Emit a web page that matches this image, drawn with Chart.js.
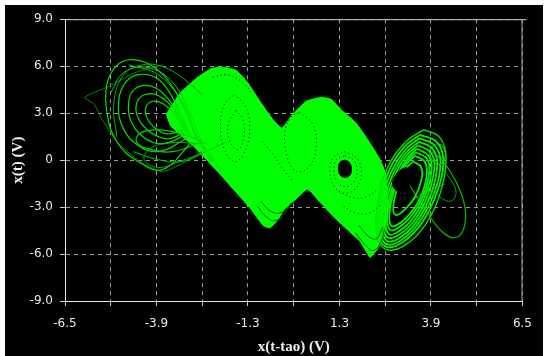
<!DOCTYPE html>
<html>
<head>
<meta charset="utf-8">
<script src="https://cdn.jsdelivr.net/npm/chart.js@4.4.1/dist/chart.umd.min.js"></script>
<style>
  html, body { margin: 0; padding: 0; background: #fff; }
  #wrap { position: absolute; left: 5px; top: 5px; width: 538px; height: 351px; background: #000; }
</style>
</head>
<body>
<div id="wrap"><canvas id="phase"></canvas></div>
<script>
// axis ticks
const xGrid = [-6.5, -5.2, -3.9, -2.6, -1.3, 0, 1.3, 2.6, 3.9, 5.2, 6.5];
const xTickLabels = ['-6.5', '', '-3.9', '', '-1.3', '', '1.3', '', '3.9', '', '6.5'];
const yGrid = [-9, -6, -3, 0, 3, 6, 9];
const yTickLabels = ['-9.0', '-6.0', '-3.0', '0', '3.0', '6.0', '9.0'];

// dense part of the attractor, traced round its outline  [x(t-tao), x(t)]
const band = [[-3.62,2.94],[-3.22,4.30],[-2.75,5.25],[-2.33,5.86],[-1.97,5.93],[-1.64,5.74],[-1.31,4.96],[-0.94,3.69],[-0.58,2.56],[-0.33,2.05],[-0.03,2.94],[0.36,3.76],[0.78,4.01],[1.06,3.88],[1.36,3.19],[1.75,2.43],[2.11,1.29],[2.44,0.09],[2.61,-0.85],[2.64,-1.67],[2.69,-2.94],[2.58,-4.64],[2.39,-5.65],[2.17,-6.22],[2.06,-5.84],[1.89,-5.21],[1.56,-4.52],[1.14,-3.63],[0.72,-2.62],[0.39,-1.86],[0.03,-2.56],[-0.25,-3.13],[-0.47,-3.88],[-0.67,-4.33],[-0.86,-4.20],[-1.22,-3.13],[-1.64,-2.05],[-2.14,-0.79],[-2.56,0.22],[-2.89,0.98],[-3.22,1.61],[-3.50,2.20],[-3.62,2.94]];

// left lobe loops
const left1 = [[-2.89,1.17],[-3.72,-0.60],[-4.42,-0.09],[-5.03,1.17],[-5.31,3.06],[-5.31,4.83],[-5.06,5.97],[-4.69,6.41],[-4.19,6.22],[-3.72,5.46],[-3.31,4.20],[-2.97,2.56],[-2.75,1.17]];
const left2 = [[-2.97,1.48],[-3.86,0.54],[-4.56,1.17],[-4.92,2.43],[-4.97,3.88],[-4.78,4.96],[-4.42,5.46],[-3.92,5.27],[-3.53,4.33],[-3.22,2.94],[-2.92,1.48]];
const left3 = [[-3.03,1.67],[-3.72,1.04],[-4.28,1.48],[-4.64,2.56],[-4.69,3.69],[-4.56,4.45],[-4.22,4.77],[-3.81,4.45],[-3.44,3.51],[-3.14,2.31],[-2.97,1.61]];
const left4 = [[-3.08,1.80],[-3.58,1.36],[-4.08,1.80],[-4.42,2.68],[-4.47,3.57],[-4.28,4.14],[-3.94,4.20],[-3.58,3.69],[-3.25,2.75],[-3.08,1.80]];
const left5 = [[-3.14,1.93],[-3.58,1.67],[-3.94,2.05],[-4.19,2.81],[-4.19,3.44],[-4.0,3.76],[-3.69,3.57],[-3.36,2.87],[-3.14,1.93]];
const left6 = [[-5.03,1.48],[-5.11,3.69],[-4.83,5.46],[-4.28,6.09],[-3.72,5.97],[-3.17,5.27],[-2.61,4.20]];
const left7 = [[-2.61,1.17],[-3.44,0.54],[-4.14,0.73],[-4.47,1.17],[-4.36,1.74],[-3.86,1.93],[-3.17,1.67],[-2.47,1.04]];
const left8 = [[-2.47,0.54],[-3.25,-0.09],[-3.86,-0.47],[-4.25,0.03],[-4.08,0.73],[-3.53,1.11],[-2.61,1.04]];
const sweep1 = [[-4.69,6.09],[-3.86,5.46],[-3.17,3.69],[-2.75,1.48],[-2.33,-0.09]];
const sweep2 = [[-5.19,4.33],[-4.83,5.59],[-4.14,5.91],[-3.44,4.96],[-2.97,3.06],[-2.61,1.17],[-2.06,-0.73]];
const sweep3 = [[-4.56,0.54],[-3.86,0.03],[-3.17,-0.09],[-2.61,0.41],[-1.92,1.17]];
const transient = [[-3.72,6.09],[-4.5,5.59],[-5.25,4.71],[-5.94,4.01],[-5.67,3.57],[-5.44,2.56],[-4.97,1.04],[-4.28,-0.22],[-3.72,-0.73],[-3.17,-0.22],[-2.61,0.54]];

// right lobe loops
const right0 = [[3.70,1.95],[4.15,1.45],[4.33,0.20],[4.19,-1.90],[3.75,-4.10],[3.15,-5.45],[2.62,-5.70],[2.36,-4.80],[2.40,-2.60],[2.66,-0.50],[3.20,1.20],[3.70,1.95]];
const right1 = [[3.58,1.61],[4.06,1.17],[4.25,0.03],[4.08,-1.99],[3.64,-4.01],[3.08,-5.27],[2.61,-5.53],[2.39,-4.64],[2.44,-2.62],[2.72,-0.60],[3.14,0.85],[3.58,1.61]];
const right1b = [[3.57,1.40],[4.00,0.95],[4.17,-0.12],[3.99,-2.10],[3.55,-4.02],[3.03,-5.15],[2.62,-5.35],[2.44,-4.45],[2.50,-2.55],[2.78,-0.72],[3.17,0.66],[3.57,1.40]];
const right2 = [[3.56,1.17],[3.94,0.73],[4.08,-0.28],[3.89,-2.24],[3.47,-4.01],[2.97,-5.02],[2.64,-5.15],[2.50,-4.26],[2.58,-2.49],[2.83,-0.85],[3.19,0.47],[3.56,1.17]];
const right2b = [[3.53,0.95],[3.89,0.50],[4.00,-0.44],[3.80,-2.30],[3.40,-3.95],[2.94,-4.83],[2.66,-4.93],[2.55,-4.07],[2.65,-2.43],[2.89,-0.91],[3.20,0.28],[3.53,0.95]];
const right3 = [[3.50,0.73],[3.83,0.28],[3.92,-0.60],[3.72,-2.37],[3.33,-3.88],[2.92,-4.64],[2.69,-4.71],[2.61,-3.88],[2.72,-2.37],[2.94,-0.98],[3.22,0.09],[3.50,0.73]];
const right3b = [[3.47,0.50],[3.78,0.10],[3.85,-0.79],[3.65,-2.43],[3.27,-3.75],[2.90,-4.42],[2.72,-4.42],[2.66,-3.63],[2.78,-2.25],[2.98,-1.01],[3.22,-0.06],[3.47,0.50]];
const right4 = [[3.44,0.28],[3.72,-0.09],[3.78,-0.98],[3.58,-2.49],[3.22,-3.63],[2.89,-4.20],[2.75,-4.14],[2.72,-3.38],[2.83,-2.12],[3.03,-1.04],[3.22,-0.22],[3.44,0.28]];
const right5 = [[3.39,-0.09],[3.61,-0.41],[3.64,-1.17],[3.44,-2.37],[3.14,-3.19],[2.92,-3.51],[2.83,-3.25],[2.86,-2.49],[2.97,-1.61],[3.11,-0.73],[3.39,-0.09]];
const rightOut = [[3.92,0.54],[4.25,-0.09],[4.61,-1.36],[4.86,-2.94],[4.83,-4.39],[4.56,-4.96],[4.19,-4.52],[3.86,-3.57],[3.58,-2.62],[3.31,-1.67]];
const rightSmall = [[3.92,0.85],[4.11,1.04],[4.28,0.66],[4.28,0.03],[4.11,-0.28],[3.92,0.03],[3.86,0.54],[3.92,0.85]];
const rightBulge = [[3.83,-1.36],[4.14,-2.31],[4.47,-2.62],[4.61,-1.99],[4.33,-0.85],[4.06,-0.09]];
const rightTail = [[3.36,-2.62],[3.81,-1.86],[4.28,-1.55]];

// dark centres and speckled streaks inside the dense part
const holeMid = [[1.44,0.00],[1.58,-0.15],[1.64,-0.54],[1.60,-0.95],[1.47,-1.10],[1.32,-0.95],[1.27,-0.54],[1.31,-0.15],[1.44,0.00]];
const holeRight = [[3.19,-0.47],[3.36,-0.73],[3.33,-1.36],[3.14,-1.86],[2.92,-1.93],[2.81,-1.55],[2.89,-0.98],[3.06,-0.60],[3.19,-0.47]];
const ringMid1 = [[1.44,0.54],[1.78,0.16],[1.92,-0.73],[1.81,-1.67],[1.47,-2.12],[1.14,-1.67],[1.03,-0.60],[1.14,0.22],[1.44,0.54]];
const ringMid2 = [[1.45,0.28],[1.70,0.00],[1.80,-0.62],[1.72,-1.35],[1.47,-1.70],[1.22,-1.35],[1.14,-0.58],[1.22,0.05],[1.45,0.28]];
const streakLeft1 = [[-1.69,4.20],[-1.36,3.38],[-1.25,1.93],[-1.42,0.41],[-1.69,-0.09],[-1.97,0.66],[-2.08,2.12],[-1.97,3.57],[-1.69,4.20]];
const streakLeft2 = [[-1.64,3.19],[-1.44,2.56],[-1.42,1.48],[-1.58,0.66],[-1.81,1.17],[-1.86,2.31],[-1.64,3.19]];
const streakLeft3 = [[-2.30,5.30],[-1.90,5.45],[-1.50,5.05],[-1.15,4.20]];
const streakMid = [[0.17,3.06],[0.53,2.31],[0.64,0.85],[0.44,-0.41],[0.08,-0.73],[-0.19,0.22],[-0.25,1.80],[-0.08,2.75],[0.17,3.06]];
const streakMid2 = [[-0.90,1.20],[-0.60,0.40],[-0.30,-0.60],[0.00,-1.40]];
const arcLow1 = [[-1.03,-2.94],[-0.81,-3.57],[-0.53,-3.88],[-0.25,-3.38],[-0.08,-2.75]];
const arcLow2 = [[-0.94,-2.62],[-0.67,-3.25],[-0.39,-3.38],[-0.14,-2.94]];
const arcTip1 = [[1.75,-4.64],[2.03,-5.40],[2.25,-5.78],[2.47,-5.27],[2.58,-4.39]];
const arcTip2 = [[1.86,-4.20],[2.14,-4.90],[2.36,-5.02],[2.53,-4.26]];
const arcSide1 = [[1.28,-1.99],[1.64,-2.37],[2.03,-2.37],[2.39,-1.86]];
const arcSide2 = [[1.42,-2.94],[1.75,-3.38],[2.14,-3.38],[2.47,-2.87]];

function trace(pts, color, width, extra) {
  return Object.assign({
    data: pts.map(p => ({x: p[0], y: p[1]})),
    borderColor: color,
    borderWidth: width,
    pointRadius: 0,
    tension: 0.4,
    fill: false,
    order: 5
  }, extra || {});
}

const speckle = {borderDash: [1, 3], order: 1};

const datasets = [
  trace(band, '#00ff00', 1, {fill: 'shape', backgroundColor: '#00ff00', tension: 0.15, order: 10}),
  trace(left1, '#00e000', 1.2),
  trace(left2, '#00e000', 1.2),
  trace(left3, '#00e000', 1.2),
  trace(left4, '#00e000', 1.2),
  trace(left5, '#00e000', 1.2),
  trace(left6, '#00b400', 1),
  trace(left7, '#00d000', 1.2),
  trace(left8, '#00b400', 1),
  trace(sweep1, '#00c800', 1),
  trace(sweep2, '#00d800', 1),
  trace(sweep3, '#00c000', 1),
  trace(transient, '#008c00', 1, {tension: 0.2}),
  trace(right0, '#00e000', 1.4),
  trace(right1, '#00f000', 1.8),
  trace(right1b, '#00f000', 1.8),
  trace(right2, '#00f000', 1.8),
  trace(right2b, '#00f000', 1.8),
  trace(right3, '#00f000', 1.8),
  trace(right3b, '#00f000', 1.8),
  trace(right4, '#00f000', 1.8),
  trace(right5, '#00f000', 1.8),
  trace(rightOut, '#00c000', 1.2),
  trace(rightSmall, '#00c800', 1.2),
  trace(rightBulge, '#00b000', 1),
  trace(rightTail, '#00b000', 1, {tension: 0}),
  trace(holeMid, '#000', 1, {fill: 'shape', backgroundColor: '#000', order: 0}),
  trace(holeRight, '#000', 1, {fill: 'shape', backgroundColor: '#000', order: 0}),
  trace(ringMid1, '#000', 1, speckle),
  trace(ringMid2, '#000', 1, speckle),
  trace(streakLeft1, '#000', 1, speckle),
  trace(streakLeft2, '#000', 1, speckle),
  trace(streakLeft3, '#000', 1, speckle),
  trace(streakMid, '#000', 1, speckle),
  trace(streakMid2, '#000', 1, speckle),
  trace(arcLow1, '#006000', 1, {order: 1}),
  trace(arcLow2, '#006000', 1, {order: 1}),
  trace(arcTip1, '#006000', 1, {order: 1}),
  trace(arcTip2, '#006000', 1, {order: 1}),
  trace(arcSide1, '#000', 1, speckle),
  trace(arcSide2, '#000', 1, speckle)
];

const frame = {
  id: 'frame',
  afterDraw(chart) {
    const {ctx, chartArea: a} = chart;
    ctx.save();
    ctx.lineWidth = 1;
    ctx.strokeStyle = '#d0d0d0';
    ctx.beginPath();
    ctx.moveTo(a.left, a.top + 0.5);
    ctx.lineTo(a.right + 4, a.top + 0.5);
    ctx.stroke();
    ctx.strokeStyle = '#a0a0a0';
    ctx.beginPath();
    ctx.moveTo(a.right - 0.5, a.top);
    ctx.lineTo(a.right - 0.5, a.bottom);
    ctx.stroke();
    ctx.restore();
  }
};

const tickFont = {family: 'DejaVu Sans', size: 12};
const titleFont = {family: 'Liberation Serif', size: 15, weight: 'bold'};

new Chart(document.getElementById('phase'), {
  type: 'line',
  data: {datasets: datasets},
  options: {
    responsive: true,
    maintainAspectRatio: false,
    animation: false,
    layout: {padding: {left: 0, top: 11, right: 10, bottom: 0}},
    plugins: {legend: {display: false}, tooltip: {enabled: false}},
    scales: {
      x: {
        type: 'linear',
        min: -6.5,
        max: 6.5,
        afterBuildTicks: s => { s.ticks = xGrid.map(v => ({value: v})); },
        afterFit: s => { s.height = 55; },
        ticks: {
          autoSkip: false,
          maxRotation: 0,
          padding: 11,
          color: '#e8e8e8',
          font: tickFont,
          callback: (v, i) => xTickLabels[i]
        },
        grid: {color: '#9a9a9a', tickColor: '#d0d0d0', tickLength: 5, tickBorderDash: []},
        border: {display: true, color: '#e8e8e8', width: 1, dash: [4, 4]},
        title: {display: true, text: 'x(t-tao) (V)', color: '#f0f0f0', font: titleFont, padding: {top: 0, bottom: 0}}
      },
      y: {
        min: -9,
        max: 9,
        afterBuildTicks: s => { s.ticks = yGrid.map(v => ({value: v})); },
        afterFit: s => { s.width = 60; },
        ticks: {
          autoSkip: false,
          padding: 7,
          color: '#e8e8e8',
          font: tickFont,
          callback: (v, i) => yTickLabels[i]
        },
        grid: {color: '#9a9a9a', tickColor: '#d0d0d0', tickLength: 5, tickBorderDash: []},
        border: {display: true, color: '#e8e8e8', width: 1, dash: [4, 4]},
        title: {display: true, text: 'x(t) (V)', color: '#f0f0f0', font: titleFont, padding: {top: 4, bottom: 0}}
      }
    }
  },
  plugins: [frame]
});
</script>
</body>
</html>
